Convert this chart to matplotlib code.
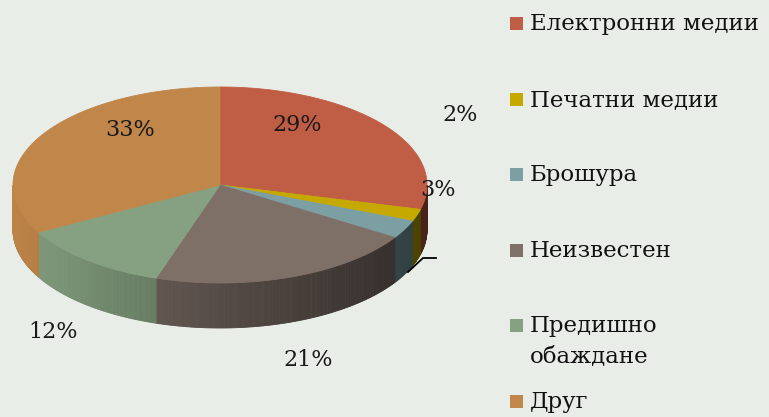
import numpy as np
import matplotlib.pyplot as plt
from matplotlib.patches import Polygon, Rectangle

# данни
categories = ["Електронни медии", "Печатни медии", "Брошура", "Неизвестен",
              "Предишно\nобаждане", "Друг"]
values = [29, 2, 3, 21, 12, 33]
colors = ["#C05D45", "#C6A900", "#7B9FA3", "#7E6F67", "#86A181", "#C1864A"]
pct_labels = [f"{v}%" for v in values]

# разположение на етикетите (пиксели)
label_pos = [(297, 125), (460, 115), (438, 190), (308, 360), (53, 332), (130, 130)]

bg = "#E9EDE8"
cx, cy, rx, ry, depth = 220, 185, 207, 98, 45

fig = plt.figure(figsize=(7.69, 4.17), dpi=100)
fig.patch.set_facecolor(bg)
ax = fig.add_axes([0, 0, 1, 1])
ax.set_xlim(0, 769)
ax.set_ylim(417, 0)
ax.axis("off")


def pt(a, dz=0.0):
    return cx + rx * np.cos(a), cy - ry * np.sin(a) + dz


def shade(col, f):
    r, g, b = plt.matplotlib.colors.to_rgb(col)
    return (r * f, g * f, b * f)


# ъгли: от 12 часа по часовниковата стрелка
fracs = np.array(values) / sum(values)
ends = 90 - np.cumsum(fracs) * 360
starts = np.concatenate([[90], ends[:-1]])

# стени (само предната половина)
for s, e, col in zip(starts, ends, colors):
    lo, hi = max(e, -180), min(s, 0)
    if hi <= lo:
        continue
    steps = np.linspace(lo, hi, max(int((hi - lo) * 2), 2))
    for a1, a2 in zip(steps[:-1], steps[1:]):
        r1, r2 = np.radians(a1), np.radians(a2)
        f = np.clip(0.68 - 0.3 * np.cos((r1 + r2) / 2), 0.0, 1.0)
        c = shade(col, f)
        quad = [pt(r1), pt(r2), pt(r2, depth), pt(r1, depth)]
        ax.add_patch(Polygon(quad, closed=True, facecolor=c, edgecolor=c, lw=0.6))

# горна повърхност
for s, e, col in zip(starts, ends, colors):
    arc = np.radians(np.linspace(s, e, max(int(abs(s - e) * 2), 3)))
    verts = [(cx, cy)] + [pt(a) for a in arc]
    ax.add_patch(Polygon(verts, closed=True, facecolor=col, edgecolor=col, lw=0.6))

# етикети
font = ["DejaVu Serif", "Liberation Serif", "serif"]
for (x, y), t in zip(label_pos, pct_labels):
    ax.text(x, y, t, ha="center", va="center", fontsize=16, family=font, color="#1a1a1a")

ax.plot([408, 423, 436], [272, 258, 258], color="black", lw=1.3)

# легенда
base0, step = 30, 75.6
for i, (name, col) in enumerate(zip(categories, colors)):
    yb = base0 + i * step
    ax.add_patch(Rectangle((510, yb - 13), 13, 13, facecolor=col, edgecolor="none"))
    for k, line in enumerate(name.split("\n")):
        ax.text(530, yb + k * 30, line, ha="left", va="baseline", fontsize=16.5,
                family=font, color="#111111")

fig.savefig("out.png", dpi=100, facecolor=bg)
